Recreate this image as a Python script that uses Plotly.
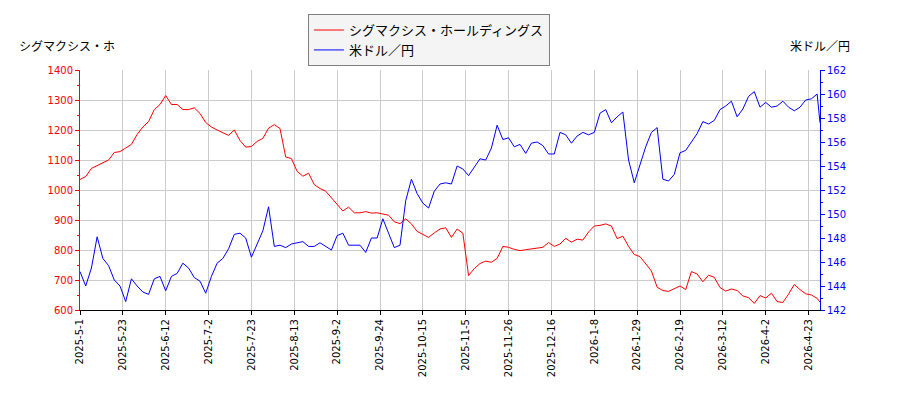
import plotly.graph_objects as go

# Trading-day index positions (every 2nd session, plus the last session)
day_index = list(range(0, 259, 2)) + [259]

tick_positions = [0, 15, 30, 45, 60, 75, 90, 105, 120, 135, 150, 165, 180, 195, 210, 225, 240, 255]
tick_labels = ["2025-5-1", "2025-5-23", "2025-6-12", "2025-7-2", "2025-7-23", "2025-8-13",
               "2025-9-2", "2025-9-24", "2025-10-15", "2025-11-5", "2025-11-26", "2025-12-16",
               "2026-1-8", "2026-1-29", "2026-2-19", "2026-3-12", "2026-4-2", "2026-4-23"]

sigmaxyz = [1035, 1045, 1072, 1082, 1090, 1100, 1125, 1128, 1140, 1152,
            1185, 1210, 1228, 1268, 1285, 1315, 1285, 1285, 1268, 1268,
            1274, 1255, 1225, 1210, 1200, 1192, 1182, 1200, 1165, 1143,
            1145, 1162, 1172, 1206, 1218, 1205, 1110, 1105, 1062, 1046,
            1056, 1018, 1005, 996, 974, 952, 930, 943, 924, 924,
            928, 923, 924, 920, 916, 894, 888, 904, 887, 862,
            852, 842, 857, 870, 874, 842, 870, 856, 715, 738,
            755, 763, 759, 772, 812, 809, 802, 798, 801, 804,
            805, 809, 825, 812, 820, 839, 826, 836, 833, 860,
            880, 882, 887, 880, 838, 846, 812, 785, 778, 752,
            730, 676, 665, 662, 671, 680, 668, 728, 720, 694,
            716, 709, 675, 663, 670, 665, 647, 641, 622, 648,
            640, 656, 628, 625, 653, 685, 668, 654, 650, 639,
            626]

usdjpy = [145.2, 144.0, 145.5, 148.1, 146.3, 145.7, 144.5, 144.0, 142.7, 144.6,
          144.0, 143.5, 143.3, 144.6, 144.8, 143.6, 144.8, 145.05, 145.9, 145.5,
          144.7, 144.4, 143.4, 144.8, 145.9, 146.3, 147.1, 148.3, 148.4, 148.0,
          146.4, 147.5, 148.6, 150.6, 147.3, 147.4, 147.2, 147.5, 147.6, 147.7,
          147.3, 147.3, 147.6, 147.3, 147.0, 148.2, 148.4, 147.4, 147.4, 147.4,
          146.8, 148.0, 148.0, 149.6, 148.4, 147.2, 147.4, 151.1, 152.9, 151.7,
          150.9, 150.5, 151.9, 152.5, 152.6, 152.5, 154.0, 153.75, 153.2, 153.9,
          154.6, 154.5, 155.5, 157.4, 156.2, 156.35, 155.6, 155.8, 155.05, 155.9,
          156.0, 155.7, 155.0, 155.0, 156.8, 156.6, 155.9, 156.5, 156.8, 156.6,
          156.8, 158.4, 158.7, 157.6, 158.1, 158.5, 154.5, 152.6, 154.2, 155.6,
          156.8, 157.2, 152.9, 152.75, 153.3, 155.1, 155.3, 156.0, 156.7, 157.7,
          157.5, 157.8, 158.7, 159.0, 159.4, 158.1, 158.75, 159.8, 160.2, 158.9,
          159.3, 158.9, 159.0, 159.4, 158.9, 158.6, 158.9, 159.5, 159.6, 160.0,
          157.6]

JP = "Noto Sans CJK JP"
LAT = "DejaVu Sans"

fig = go.Figure()
fig.add_trace(go.Scatter(x=day_index, y=sigmaxyz, mode="lines",
                         name="シグマクシス・ホールディングス",
                         line=dict(color="#ff0000", width=1)))
fig.add_trace(go.Scatter(x=day_index, y=usdjpy, mode="lines", name="米ドル／円",
                         line=dict(color="#0000ff", width=1), yaxis="y2"))

# The page body adds an 8px offset; the figure is sized so the plot area lands at 80..820 x 70..310
fig.update_layout(
    width=892, height=392,
    margin=dict(l=72, r=80, t=62, b=90, autoexpand=False),
    paper_bgcolor="white", plot_bgcolor="white",
    font=dict(family=LAT, size=10, color="black"),
    showlegend=True,
    legend=dict(x=0.308, y=1.233, xanchor="left", yanchor="top",
                bgcolor="#f4f4f4", bordercolor="#808080", borderwidth=1,
                font=dict(family=JP, size=13, color="black"),
                tracegroupgap=0, itemwidth=30),
    xaxis=dict(range=[0, 259], tickmode="array", tickvals=tick_positions, ticktext=tick_labels,
               tickangle=-90, showgrid=True, gridcolor="#cccccc", gridwidth=1,
               showline=True, linecolor="black", linewidth=1,
               ticks="outside", ticklen=4, tickcolor="black",
               tickfont=dict(family=LAT, size=10, color="black"), zeroline=False),
    yaxis=dict(range=[600, 1400], dtick=100, tick0=600, showgrid=True, gridcolor="#cccccc",
               showline=True, linecolor="#ff0000", linewidth=1,
               ticks="outside", ticklen=4, tickcolor="#ff0000",
               tickfont=dict(family=LAT, size=10, color="#ff0000"), zeroline=False,
               minor=dict(dtick=50, ticks="outside", ticklen=2, tickcolor="#ff0000", showgrid=False)),
    yaxis2=dict(range=[142, 162], dtick=2, tick0=142, overlaying="y", side="right",
                showgrid=False, showline=True, linecolor="#0000ff", linewidth=1,
                ticks="outside", ticklen=4, tickcolor="#0000ff",
                tickfont=dict(family=LAT, size=10, color="#0000ff"), zeroline=False,
                minor=dict(dtick=1, ticks="outside", ticklen=2, tickcolor="#0000ff")),
    annotations=[
        dict(text="シグマクシス・ホ", xref="paper", yref="paper", x=-0.017, y=1.1,
             xanchor="center", yanchor="middle", showarrow=False,
             font=dict(family=JP, size=12, color="black")),
        dict(text="米ドル／円", xref="paper", yref="paper", x=1.0, y=1.1,
             xanchor="center", yanchor="middle", showarrow=False,
             font=dict(family=JP, size=12, color="black")),
    ],
)

fig.write_html("out.html")
